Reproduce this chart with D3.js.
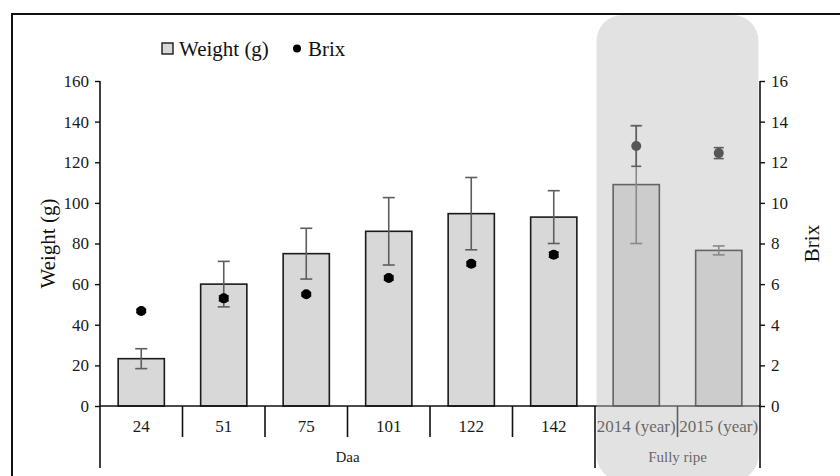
<!DOCTYPE html>
<html>
<head>
<meta charset="utf-8">
<script src="https://cdn.jsdelivr.net/npm/d3@7"></script>
<style>
  body { margin: 0; background: #fff; }
</style>
</head>
<body>
<div id="chart"></div>
<script>
const categories = ['24', '51', '75', '101', '122', '142', '2014 (year)', '2015 (year)'];
const groups = [
  { name: 'Daa', from: '24', to: '142' },
  { name: 'Fully ripe', from: '2014 (year)', to: '2015 (year)' },
];
const weight = [23.3, 60, 75, 86, 94.7, 93, 109, 76.6];
const weightErr = [4.9, 11.2, 12.5, 16.6, 17.8, 13, 29, 2.2];
const brix = [4.68, 5.3, 5.5, 6.3, 7.0, 7.45, 12.8, 12.45];
const brixErr = [0.08, 0.12, 0.08, 0.1, 0.1, 0.12, 1.0, 0.27];
const weightTicks = [0, 20, 40, 60, 80, 100, 120, 140, 160];
const brixTicks = [0, 2, 4, 6, 8, 10, 12, 14, 16];

const serif = '"Liberation Serif", "DejaVu Serif", serif';
const width = 840;
const height = 476;
const margin = { top: 81, right: 80, bottom: 70, left: 100 };
const plotW = width - margin.left - margin.right;
const plotH = height - margin.top - margin.bottom;

const svg = d3.select('#chart')
  .append('svg')
  .attr('width', width)
  .attr('height', height)
  .attr('font-family', serif);

// outer frame (cropped: top and left only)
svg.append('line').attr('x1', 11).attr('x2', width).attr('y1', 14).attr('y2', 14)
  .attr('stroke', '#111').attr('stroke-width', 2);
svg.append('line').attr('x1', 12).attr('x2', 12).attr('y1', 14).attr('y2', height)
  .attr('stroke', '#111').attr('stroke-width', 2);

const g = svg.append('g').attr('transform', `translate(${margin.left}, ${margin.top})`);

const fx = d3.scaleBand().domain(categories).range([0, plotW]).padding(0);
const fy = d3.scaleLinear().domain([0, 160]).range([plotH, 0]);
const fyB = d3.scaleLinear().domain([0, 16]).range([plotH, 0]);
const barW = fx.bandwidth() * 0.56;
const cx = c => fx(c) + fx.bandwidth() / 2;

const rows = categories.map((c, i) => ({
  c, w: weight[i], we: weightErr[i], b: brix[i], be: brixErr[i],
}));

// bars
g.selectAll('.bar')
  .data(rows)
  .join('rect')
  .attr('class', 'bar')
  .attr('x', d => cx(d.c) - barW / 2)
  .attr('y', d => fy(d.w))
  .attr('width', barW)
  .attr('height', d => fy(0) - fy(d.w))
  .attr('fill', '#d8d8d8')
  .attr('stroke', '#1a1a1a')
  .attr('stroke-width', 1.6);

// weight error bars
const werr = g.selectAll('.werr').data(rows).join('g').attr('class', 'werr')
  .attr('stroke', '#5e5e5e').attr('stroke-width', 1.6);
werr.append('line')
  .attr('x1', d => cx(d.c)).attr('x2', d => cx(d.c))
  .attr('y1', d => fy(d.w + d.we))
  .attr('y2', d => fy(d.w - d.we));
[1, -1].forEach(s => {
  werr.append('line')
    .attr('x1', d => cx(d.c) - 6).attr('x2', d => cx(d.c) + 6)
    .attr('y1', d => fy(d.w + s * d.we))
    .attr('y2', d => fy(d.w + s * d.we));
});

// brix error bars + points
const berr = g.selectAll('.berr').data(rows).join('g').attr('class', 'berr')
  .attr('stroke', '#111').attr('stroke-width', 1.6);
berr.append('line')
  .attr('x1', d => cx(d.c)).attr('x2', d => cx(d.c))
  .attr('y1', d => fyB(d.b + d.be))
  .attr('y2', d => fyB(d.b - d.be));
[1, -1].forEach(s => {
  berr.append('line')
    .attr('x1', d => cx(d.c) - 5).attr('x2', d => cx(d.c) + 5)
    .attr('y1', d => fyB(d.b + s * d.be))
    .attr('y2', d => fyB(d.b + s * d.be));
});
g.selectAll('.pt')
  .data(rows)
  .join('circle')
  .attr('class', 'pt')
  .attr('cx', d => cx(d.c))
  .attr('cy', d => fyB(d.b))
  .attr('r', 5)
  .attr('fill', '#000');

// axes
const yAxis = g.append('g')
  .call(d3.axisLeft(fy).tickValues(weightTicks).tickSize(5).tickPadding(6));
const yAxisR = g.append('g')
  .attr('transform', `translate(${plotW}, 0)`)
  .call(d3.axisRight(fyB).tickValues(brixTicks).tickSize(5).tickPadding(6));
[yAxis, yAxisR].forEach(a => {
  a.attr('font-family', serif).attr('font-size', 17);
  a.select('.domain').attr('stroke', '#111').attr('stroke-width', 1.6)
    .attr('d', `M0,0V${plotH}`);
  a.selectAll('.tick line').attr('stroke', '#111').attr('stroke-width', 1.4);
  a.selectAll('.tick text').attr('fill', '#1a1a1a');
});

// baseline
g.append('line').attr('x1', 0).attr('x2', plotW).attr('y1', fy(0)).attr('y2', fy(0))
  .attr('stroke', '#111').attr('stroke-width', 1.6);

// category separators
const sepShort = 31;
const sepLong = 62;
const boundaries = categories.map(c => fx(c)).concat([plotW]);
const groupEdges = new Set([0, fx(groups[1].from), plotW]);
g.selectAll('.sep')
  .data(boundaries)
  .join('line')
  .attr('class', 'sep')
  .attr('x1', d => d).attr('x2', d => d)
  .attr('y1', fy(0))
  .attr('y2', d => fy(0) + (groupEdges.has(d) ? sepLong : sepShort))
  .attr('stroke', '#111').attr('stroke-width', 1.6);

g.selectAll('.cat')
  .data(categories)
  .join('text')
  .attr('class', 'cat')
  .attr('x', d => cx(d))
  .attr('y', fy(0) + 26)
  .attr('text-anchor', 'middle')
  .attr('font-size', 17)
  .attr('fill', '#1a1a1a')
  .text(d => d);

g.selectAll('.grp')
  .data(groups)
  .join('text')
  .attr('class', 'grp')
  .attr('x', d => (fx(d.from) + fx(d.to) + fx.bandwidth()) / 2)
  .attr('y', fy(0) + 56)
  .attr('text-anchor', 'middle')
  .attr('font-size', 15)
  .attr('fill', '#1a1a1a')
  .text(d => d.name);

// axis titles
svg.append('text')
  .attr('transform', `translate(55, ${margin.top + plotH / 2}) rotate(-90)`)
  .attr('text-anchor', 'middle')
  .attr('font-size', 21)
  .attr('fill', '#111')
  .text('Weight (g)');
svg.append('text')
  .attr('transform', `translate(819, ${margin.top + plotH / 2}) rotate(-90)`)
  .attr('text-anchor', 'middle')
  .attr('font-size', 21)
  .attr('fill', '#111')
  .text('Brix');

// legend
const legend = svg.append('g').attr('transform', 'translate(162, 43)');
legend.append('rect').attr('width', 11).attr('height', 11)
  .attr('fill', '#d8d8d8').attr('stroke', '#1a1a1a').attr('stroke-width', 1.4);
legend.append('text').attr('x', 17).attr('y', 13).attr('font-size', 21).attr('fill', '#111')
  .text('Weight (g)');
legend.append('circle').attr('cx', 135).attr('cy', 5.5).attr('r', 4).attr('fill', '#000');
legend.append('text').attr('x', 146).attr('y', 13).attr('font-size', 21).attr('fill', '#111')
  .text('Brix');

// shaded "Fully ripe" overlay
const shadeX0 = margin.left + fx(groups[1].from) + 1.5;
const shadeX1 = margin.left + plotW - 1.5;
svg.append('rect')
  .attr('x', shadeX0)
  .attr('y', 15)
  .attr('width', shadeX1 - shadeX0)
  .attr('height', 466)
  .attr('rx', 26)
  .attr('fill', 'rgb(190,190,190)')
  .attr('fill-opacity', 0.45);
</script>
</body>
</html>
